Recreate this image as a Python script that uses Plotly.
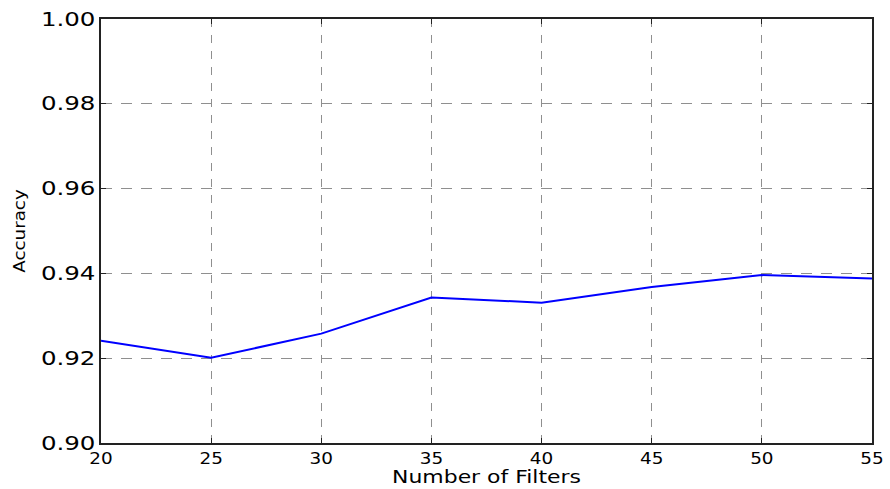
import plotly.graph_objects as go

num_filters = [20, 25, 30, 35, 40, 45, 50, 55]
accuracy = [0.9241, 0.9201, 0.9258, 0.9343, 0.9331, 0.9368, 0.9396, 0.9388]

x_ticks = [20, 25, 30, 35, 40, 45, 50, 55]
y_ticks = [0.90, 0.92, 0.94, 0.96, 0.98, 1.00]

font_family = "DejaVu Sans"
grid_color = "#8f8f8f"

fig = go.Figure()
fig.add_trace(go.Scatter(
    x=num_filters, y=accuracy, mode="lines",
    line=dict(color="#0000ff", width=2),
    showlegend=False,
))

fig.update_layout(
    width=890, height=489,
    margin=dict(l=101, r=18, t=19, b=46),
    paper_bgcolor="white", plot_bgcolor="white",
    font=dict(family=font_family, color="black"),
)

fig.update_xaxes(
    range=[20, 55], tickvals=x_ticks, ticktext=[str(v) for v in x_ticks],
    showline=True, linecolor="#222222", linewidth=1.5, mirror="ticks",
    ticks="inside", ticklen=5, tickcolor="#222222",
    showgrid=True, gridcolor=grid_color, gridwidth=1.2, griddash="8px,8px",
    zeroline=False, tickfont=dict(size=16), automargin=False,
    title=dict(text="Number of Filters", font=dict(size=17), standoff=4),
)
fig.update_yaxes(
    range=[0.90, 1.00], tickvals=y_ticks, ticktext=[f"{v:.2f}" for v in y_ticks],
    showline=True, linecolor="#222222", linewidth=1.5, mirror="ticks",
    ticks="inside", ticklen=5, tickcolor="#222222",
    showgrid=True, gridcolor=grid_color, gridwidth=1.2, griddash="11px,9px",
    zeroline=False, tickfont=dict(size=19), automargin=False,
    title=dict(text="Accuracy", font=dict(size=15), standoff=24),
)

# Widen the lettering a little (the labels use a broad sans face).
stretch_js = """
var gd = document.getElementById('{plot_id}');
function widen(sel, sx, sy, origin) {
  gd.querySelectorAll(sel).forEach(function (el) {
    el.style.transformBox = 'fill-box';
    el.style.transformOrigin = origin;
    el.style.transform = 'scale(' + sx + ',' + sy + ')';
  });
}
widen('g.xtick', 1.15, 1, 'center center');
widen('g.ytick', 1.29, 1, 'right center');
widen('g.g-xtitle', 1.29, 1, 'center center');
widen('g.g-ytitle', 1, 1.22, 'center center');
"""

fig.write_html("out.html", post_script=stretch_js)
